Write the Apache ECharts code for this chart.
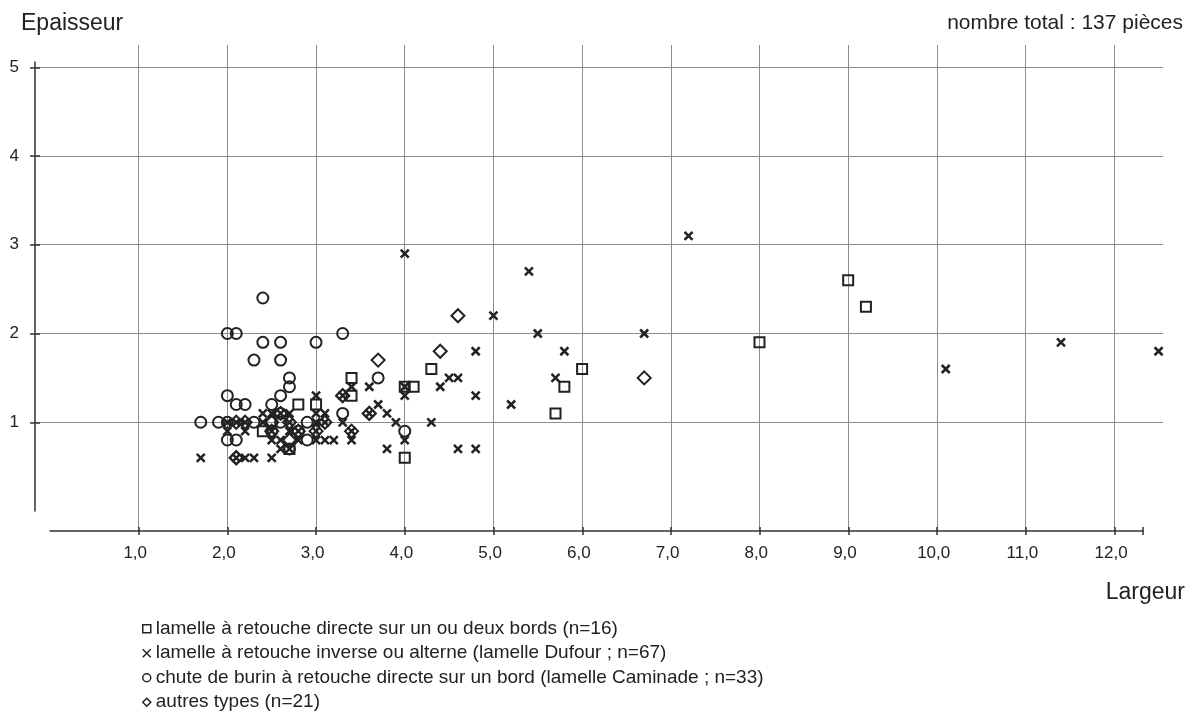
<!DOCTYPE html>
<html>
<head>
<meta charset="utf-8">
<script src="https://cdn.jsdelivr.net/npm/echarts@6/dist/echarts.min.js"></script>
<style>
html, body { margin: 0; padding: 0; background: #fff; }
#chart { width: 1196px; height: 720px; }
</style>
</head>
<body>
<div id="chart"></div>
<script>
// tick labels
const xTicks = [1, 2, 3, 4, 5, 6, 7, 8, 9, 10, 11, 12];
const yTicks = [1, 2, 3, 4, 5];

// largeur / epaisseur pairs, one array per type
const squares = [
    [2.4, 0.9], [2.8, 1.2], [3.0, 1.2], [3.4, 1.5], [3.4, 1.3], [4.0, 1.4], [4.1, 1.4], [4.0, 0.6],
    [4.3, 1.6], [5.7, 1.1], [5.8, 1.4], [6.0, 1.6], [8.0, 1.9], [9.0, 2.6], [9.2, 2.3], [2.7, 0.7]
];
const crosses = [
    [7.2, 3.1], [4.0, 2.9], [5.4, 2.7], [5.0, 2.2], [5.5, 2.0], [6.7, 2.0], [11.4, 1.9], [12.5, 1.8],
    [10.1, 1.6], [4.8, 1.8], [5.8, 1.8], [5.7, 1.5], [4.5, 1.5], [4.6, 1.5], [4.4, 1.4], [4.8, 1.3],
    [5.2, 1.2], [4.3, 1.0], [4.6, 0.7], [4.8, 0.7], [4.0, 1.4], [4.0, 1.3], [3.6, 1.4], [3.4, 1.4],
    [3.0, 1.3], [3.3, 1.3], [3.7, 1.2], [3.8, 1.1], [3.9, 1.0], [3.3, 1.0], [3.4, 0.9], [3.4, 0.8],
    [3.8, 0.7], [4.0, 0.8], [3.0, 0.8], [3.1, 0.8], [3.2, 0.8], [3.0, 1.0], [3.1, 1.0], [3.0, 1.1],
    [3.1, 1.1], [1.7, 0.6], [2.1, 0.6], [2.2, 0.6], [2.3, 0.6], [2.5, 0.6], [2.0, 0.9], [2.2, 0.9],
    [2.0, 1.0], [2.1, 1.0], [2.2, 1.0], [2.4, 1.1], [2.5, 1.1], [2.7, 1.1], [2.7, 1.0], [2.5, 0.9],
    [2.7, 0.9], [2.8, 0.9], [2.5, 0.8], [2.6, 0.8], [2.7, 0.7], [2.6, 0.7], [3.0, 0.9], [3.6, 1.1],
    [2.4, 1.0], [2.6, 1.1], [2.8, 0.8]
];
const circles = [
    [2.4, 2.4], [2.0, 2.0], [2.1, 2.0], [3.3, 2.0], [2.4, 1.9], [2.6, 1.9], [3.0, 1.9], [2.3, 1.7],
    [2.6, 1.7], [2.7, 1.5], [3.7, 1.5], [2.7, 1.4], [2.0, 1.3], [2.6, 1.3], [2.1, 1.2], [2.2, 1.2],
    [2.5, 1.2], [3.3, 1.1], [1.7, 1.0], [1.9, 1.0], [2.3, 1.0], [2.5, 1.0], [2.6, 1.0], [2.9, 1.0],
    [2.0, 0.8], [2.1, 0.8], [2.9, 0.8], [4.0, 0.9], [2.6, 1.1], [2.5, 0.9], [2.8, 0.9], [2.7, 0.7],
    [2.0, 1.0]
];
const diamonds = [
    [3.7, 1.7], [4.6, 2.2], [4.4, 1.8], [6.7, 1.5], [3.3, 1.3], [3.6, 1.1], [2.1, 0.6], [3.3, 1.3],
    [3.6, 1.1], [2.1, 0.6], [2.1, 1.0], [2.2, 1.0], [2.5, 1.0], [2.5, 0.9], [2.6, 1.1], [2.7, 0.8],
    [2.8, 0.9], [2.7, 1.0], [3.0, 0.9], [3.1, 1.0], [3.4, 0.9]
];

const ink = '#222';
const gridColor = '#8c8c8c';
const font = '"Liberation Sans", Arial, sans-serif';
const crossPath = 'path://M0,0L10,10M10,0L0,10';

function hollow(width) {
    return { color: 'transparent', borderColor: ink, borderWidth: width, opacity: 1 };
}

function hiddenAxis(gridIndex, min, max) {
    return { type: 'value', gridIndex, min, max, show: false };
}

function titleStyle(size) {
    return { fontSize: size, fontWeight: 'normal', color: ink, fontFamily: font };
}

const option = {
    animation: false,
    backgroundColor: '#fff',
    textStyle: { fontFamily: font },
    title: [
        { text: 'Epaisseur', left: 16, top: 7, textStyle: titleStyle(23) },
        { text: 'nombre total : 137 pièces', right: 8, top: 8, textStyle: titleStyle(21) },
        { text: 'Largeur', right: 6, top: 576, textStyle: titleStyle(23) }
    ],
    legend: {
        orient: 'vertical',
        left: 137,
        top: 614,
        itemGap: 5,
        itemWidth: 8,
        itemHeight: 8,
        textStyle: { fontSize: 19, color: ink, fontFamily: font, lineHeight: 19.5 },
        itemStyle: { borderWidth: 1.5 }
    },
    grid: [
        // data + vertical gridlines
        { left: 50, right: 33, top: 45, bottom: 189, outerBoundsMode: 'none' },
        // horizontal gridlines
        { left: 35, right: 33, top: 45, bottom: 209, outerBoundsMode: 'none' },
        // y axis line
        { left: 35, width: 10, top: 62, bottom: 209, outerBoundsMode: 'none' },
        // x axis line
        { left: 50, right: 53, top: 45, bottom: 189, outerBoundsMode: 'none' }
    ],
    xAxis: [
        {
            type: 'value', gridIndex: 0, min: 0, max: 12.55, interval: 1,
            axisLine: { show: false }, axisTick: { show: false }, axisLabel: { show: false },
            splitLine: { show: true, showMinLine: false, showMaxLine: false, lineStyle: { color: gridColor, width: 1 } }
        },
        hiddenAxis(1, 0, 1),
        hiddenAxis(2, 0, 1),
        {
            type: 'value', gridIndex: 3, min: 0, max: 12.32, position: 'bottom',
            axisLine: { show: true, lineStyle: { color: '#333', width: 1.5 } },
            axisTick: { show: true, customValues: xTicks.concat([12.32]), length: 4, lineStyle: { color: '#333', width: 1.5 } },
            axisLabel: {
                show: true, customValues: xTicks, margin: 14, fontSize: 17, color: ink, fontFamily: font,
                padding: [0, 7, 0, 0],
                formatter: v => v.toFixed(1).replace('.', ',')
            },
            splitLine: { show: false }
        },
        {
            type: 'value', gridIndex: 3, min: 0, max: 12.32, position: 'bottom',
            axisLine: { show: false },
            axisTick: { show: true, inside: true, customValues: xTicks.concat([12.32]), length: 4, lineStyle: { color: '#333', width: 1.5 } },
            axisLabel: { show: false },
            splitLine: { show: false }
        }
    ],
    yAxis: [
        hiddenAxis(0, -0.225, 5.25),
        {
            type: 'value', gridIndex: 1, min: 0, max: 5.25, interval: 1,
            axisLine: { show: false }, axisTick: { show: false }, axisLabel: { show: false },
            splitLine: { show: true, showMinLine: false, showMaxLine: false, lineStyle: { color: gridColor, width: 1 } }
        },
        {
            type: 'value', gridIndex: 2, min: 0, max: 5.06, position: 'left',
            axisLine: { show: true, lineStyle: { color: '#333', width: 1.5 } },
            axisTick: { show: true, customValues: yTicks, length: 5, lineStyle: { color: '#333', width: 1.5 } },
            axisLabel: { show: true, customValues: yTicks, margin: 16, fontSize: 17, color: ink, fontFamily: font },
            splitLine: { show: false }
        },
        {
            type: 'value', gridIndex: 2, min: 0, max: 5.06, position: 'left',
            axisLine: { show: false },
            axisTick: { show: true, inside: true, customValues: yTicks, length: 5, lineStyle: { color: '#333', width: 1.5 } },
            axisLabel: { show: false },
            splitLine: { show: false }
        },
        hiddenAxis(3, 0, 1)
    ],
    series: [
        {
            name: 'lamelle à retouche directe sur un ou deux bords (n=16)',
            type: 'scatter', xAxisIndex: 0, yAxisIndex: 0,
            symbol: 'rect', symbolSize: 10, itemStyle: hollow(2), data: squares
        },
        {
            name: 'lamelle à retouche inverse ou alterne (lamelle Dufour ; n=67)',
            type: 'scatter', xAxisIndex: 0, yAxisIndex: 0,
            symbol: crossPath, symbolSize: 8, itemStyle: hollow(2.5), data: crosses
        },
        {
            name: 'chute de burin à retouche directe sur un bord (lamelle Caminade ; n=33)',
            type: 'scatter', xAxisIndex: 0, yAxisIndex: 0,
            symbol: 'circle', symbolSize: 11, itemStyle: hollow(2), data: circles
        },
        {
            name: 'autres types (n=21)',
            type: 'scatter', xAxisIndex: 0, yAxisIndex: 0,
            symbol: 'diamond', symbolSize: 13, itemStyle: hollow(2), data: diamonds
        }
    ]
};

const chart = echarts.init(document.getElementById('chart'), null, { renderer: 'canvas' });
chart.setOption(option);
</script>
</body>
</html>
